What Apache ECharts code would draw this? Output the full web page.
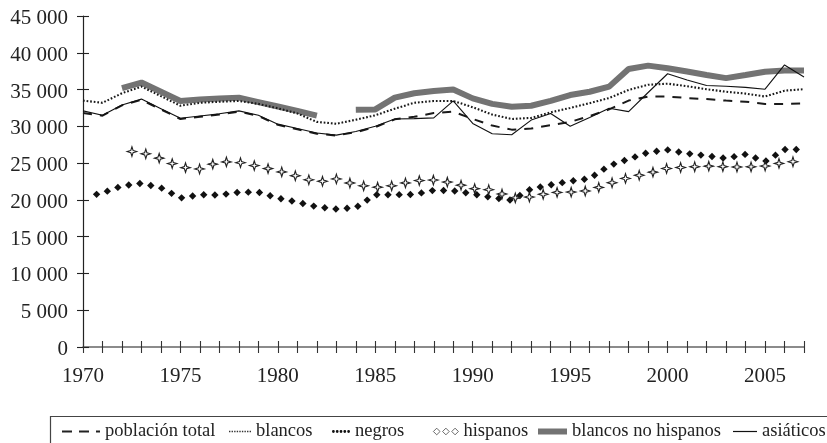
<!DOCTYPE html>
<html>
<head>
<meta charset="utf-8">
<script src="https://cdn.jsdelivr.net/npm/echarts@6/dist/echarts.min.js"></script>
<style>html,body{margin:0;padding:0;background:#fff}#c{width:827px;height:443px}</style>
</head>
<body>
<div id="c"></div>
<script>
// ---- data ----
const years = [1970,1971,1972,1973,1974,1975,1976,1977,1978,1979,1980,1981,1982,1983,1984,1985,1986,1987,1988,1989,1990,1991,1992,1993,1994,1995,1996,1997,1998,1999,2000,2001,2002,2003,2004,2005,2006,2007];
const poblacionTotal = [31800,31450,32850,33600,32300,31000,31300,31600,32000,31400,30200,29600,29000,28750,29200,29900,30950,31300,31800,32000,31000,30100,29550,29700,30150,30600,31400,32300,33500,34050,34050,33850,33700,33500,33350,33050,33050,33100];
const blancos = [33500,33200,34500,35400,34100,32800,33200,33350,33450,33050,32450,31750,30600,30350,30900,31500,32400,33200,33450,33450,32600,31600,31000,31150,31900,32500,33150,33850,34950,35650,35800,35450,35050,34700,34450,34050,34850,35050];
const negros = [20300,20950,21900,22250,21650,20250,20700,20650,21050,21050,20250,19700,19050,18750,18950,20700,20700,20750,21300,21250,20800,20300,19950,21500,22050,22550,22900,24650,25550,26450,26800,26300,26000,25650,26200,25200,26850,26850];
const hispanos = [null,null,26700,26450,25600,24450,24200,25200,25100,24550,23950,23200,22400,22850,22050,21700,21950,22600,22700,22300,21550,21350,20250,20400,21000,21050,21250,22200,23050,23600,24300,24450,24600,24500,24450,24600,25100,25300];
const blancosNoHispanos = [null,null,35200,35950,34700,33450,33650,33800,33900,33300,32700,32100,31450,null,32250,32300,33900,34500,34800,35000,33800,33050,32650,32800,33450,34250,34700,35400,37800,38250,37900,37450,36980,36550,36980,37430,37600,37600];
const asiaticos = [32100,31500,32900,33700,32400,31100,31400,31700,32100,31500,30300,29700,29100,28800,29300,30000,31000,31050,31150,33450,30400,29000,28850,30850,31750,30000,31200,32450,32000,34600,37150,36300,35550,35450,35300,35050,38350,36700];
const xTickLabels = [1970,1975,1980,1985,1990,1995,2000,2005];
const seriesNames = ['población total','blancos','negros','hispanos','blancos no hispanos','asiáticos'];

// ---- styling helpers ----
const FONT = '"Liberation Serif", "DejaVu Serif", serif';
const TXT = '#222';

function pairs(arr){ return years.map((y,i)=>[y, arr[i]]); }
function pairsNoNull(arr){ const o=[]; years.forEach((y,i)=>{ if(arr[i]!=null) o.push([y,arr[i]]); }); return o; }

function diamond(cx, cy){
  const r = 3.7;
  return {type:'polygon', shape:{points:[[cx,cy-r],[cx+r,cy],[cx,cy+r],[cx-r,cy]]}, style:{fill:'#111'}};
}
function star(cx, cy){
  const R = 4.8, r = 1.6, pts = [];
  for (let k=0;k<8;k++){
    const a = -Math.PI/2 + k*Math.PI/4;
    const rr = (k%2===0) ? R : r;
    pts.push([cx + rr*Math.cos(a), cy + rr*Math.sin(a)]);
  }
  return {type:'polygon', shape:{points:pts}, style:{fill:'#fff', stroke:'#222', lineWidth:1.1}};
}

// markers repeated along the data line (a "marker line style"), positioned through the axes
function markerSeries(name, values, shapeFn, spacing, offset, color){
  return {
    name: name, type:'custom', coordinateSystem:'cartesian2d', z:5,
    itemStyle:{color:color},
    encode:{x:0, y:1},
    data: pairsNoNull(values),
    renderItem: function(params, api){
      if (params.dataIndexInside !== 0) return null;
      const n = params.dataInsideLength;
      const pts = [];
      for (let i=0;i<n;i++) pts.push(api.coord([api.value(0,i), api.value(1,i)]));
      const children = [];
      let next = offset, acc = 0;
      for (let i=1;i<pts.length;i++){
        const x0=pts[i-1][0], y0=pts[i-1][1], x1=pts[i][0], y1=pts[i][1];
        const len = Math.hypot(x1-x0, y1-y0);
        while (next <= acc + len){
          const t = (next-acc)/len;
          children.push(shapeFn(x0+(x1-x0)*t, y0+(y1-y0)*t));
          next += spacing;
        }
        acc += len;
      }
      return {type:'group', children: children};
    }
  };
}

// legend icon paths
function dotsPath(n, size, step){ let s=''; for(let i=0;i<n;i++){ const x=i*step; s+=`M${x},0h${size}v${size}h-${size}z `; } return 'path://'+s; }
function circlesPath(n, r, step){ let s=''; for(let i=0;i<n;i++){ const cx=r+i*step; s+=`M${cx-r},${r}a${r},${r} 0 1,0 ${2*r},0a${r},${r} 0 1,0 -${2*r},0z `; } return 'path://'+s; }
function diamondsPath(n, w, step){ let s=''; const h=w/2; for(let i=0;i<n;i++){ const x=i*step; s+=`M${x+h},0L${x+w},${h}L${x+h},${w}L${x},${h}z `; } return 'path://'+s; }

const legendBase = {
  orient:'horizontal', top:422, itemHeight:20, itemGap:0, padding:0, selectedMode:false,
  textStyle:{fontFamily:FONT, fontSize:18.5, color:TXT}
};
const legends = [
  {left:62, itemWidth:38, icon:'path://M0,0h10v2h-10z M17,0h10v2h-10z M34,0h4v2h-4z', itemStyle:{color:'#222', borderWidth:0}},
  {left:229, itemWidth:22, icon:dotsPath(9,1.4,2.6), itemStyle:{color:'#333', borderWidth:0}},
  {left:332, itemWidth:18, icon:circlesPath(5,1.4,3.8), itemStyle:{color:'#111', borderWidth:0}},
  {left:433, itemWidth:25, icon:diamondsPath(3,6.5,9), itemStyle:{color:'#fff', borderColor:'#444', borderWidth:0.8, borderType:'solid'}},
  {left:538, itemWidth:29, icon:'path://M0,0h29v6h-29z', itemStyle:{color:'#737373', borderWidth:0}},
  {left:733, itemWidth:24, icon:'path://M0,0h24v1.2h-24z', itemStyle:{color:'#111', borderWidth:0}}
].map((l,i)=>Object.assign({}, legendBase, {left:l.left, itemWidth:l.itemWidth,
  data:[{name:seriesNames[i], icon:l.icon, itemStyle:l.itemStyle}]}));

const chart = echarts.init(document.getElementById('c'), null, {renderer:'canvas'});
chart.setOption({
  animation:false,
  backgroundColor:'#fff',
  textStyle:{fontFamily:FONT},
  grid:{left:83, right:23, top:16, bottom:96, containLabel:false},
  xAxis:[
    {type:'value', min:1970, max:2007, interval:1, position:'bottom',
     axisLine:{show:true, onZero:false, lineStyle:{color:'#666', width:1.5}},
     axisTick:{show:true, length:6, lineStyle:{color:'#333', width:1.1}},
     axisLabel:{margin:19, fontFamily:FONT, fontSize:21, color:TXT, showMinLabel:true, showMaxLabel:true,
       formatter:function(v){ return xTickLabels.indexOf(v) >= 0 ? String(v) : ''; }},
     splitLine:{show:false}},
    {type:'value', min:1970, max:2007, interval:1, position:'bottom',
     axisLine:{show:false}, axisTick:{show:true, inside:true, length:6, lineStyle:{color:'#333', width:1.1}},
     axisLabel:{show:false}, splitLine:{show:false}}
  ],
  yAxis:[
    {type:'value', min:0, max:45000, interval:5000, position:'left',
     axisLine:{show:true, lineStyle:{color:'#222', width:1.2}},
     axisTick:{show:true, length:6, lineStyle:{color:'#222', width:1.1}},
     axisLabel:{margin:15, fontFamily:FONT, fontSize:21, color:TXT, verticalAlign:'top', lineHeight:5,
       formatter:function(v){ return String(v).replace(/\B(?=(\d{3})+(?!\d))/g,' '); }},
     splitLine:{show:false}},
    {type:'value', min:0, max:45000, interval:5000, position:'left',
     axisLine:{show:false}, axisTick:{show:true, inside:true, length:6, lineStyle:{color:'#222', width:1.1}},
     axisLabel:{show:false}, splitLine:{show:false}}
  ],
  legend: legends,
  graphic:[
    {type:'rect', shape:{x:50.5, y:416.5, width:800, height:60}, style:{fill:'none', stroke:'#444', lineWidth:1.2}, silent:true}
  ],
  series:[
    {name:'blancos no hispanos', type:'line', data:pairs(blancosNoHispanos), showSymbol:false, symbol:'none', connectNulls:false, z:2,
     itemStyle:{color:'#737373'}, lineStyle:{color:'#737373', width:6}},
    {name:'blancos', type:'line', data:pairs(blancos), showSymbol:false, symbol:'none', z:3,
     itemStyle:{color:'#333'}, lineStyle:{color:'#1a1a1a', width:2.1, type:[1.7,1.9]}},
    {name:'población total', type:'line', data:pairs(poblacionTotal), showSymbol:false, symbol:'none', z:3,
     itemStyle:{color:'#222'}, lineStyle:{color:'#1a1a1a', width:2, type:[9,8]}},
    {name:'asiáticos', type:'line', data:pairs(asiaticos), showSymbol:false, symbol:'none', z:4,
     itemStyle:{color:'#111'}, lineStyle:{color:'#111', width:1.1}},
    markerSeries('negros', negros, diamond, 11.2, 14, '#111'),
    markerSeries('hispanos', hispanos, star, 14.1, 10, '#444')
  ]
});
</script>
</body>
</html>
